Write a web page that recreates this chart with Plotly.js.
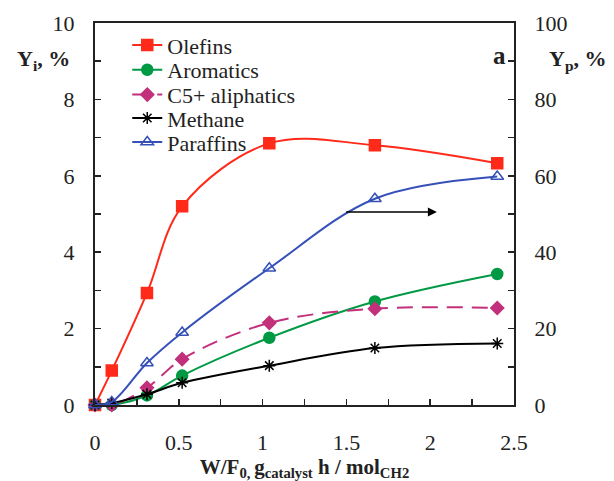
<!DOCTYPE html>
<html>
<head>
<meta charset="utf-8">
<script src="https://cdn.plot.ly/plotly-3.0.1.min.js"></script>
<style>html,body{margin:0;padding:0;background:#fff;}
#chart{width:614px;height:481px;position:relative;z-index:1;}
#fontwarm{position:absolute;left:0;top:0;z-index:0;font-family:'Liberation Serif';font-size:22px;color:#fff;visibility:hidden;}</style>
</head>
<body>
<div id="fontwarm">Olefins 0.5 10 <b>a</b></div>
<div id="chart"></div>
<script>
const xVals = [0, 0.1, 0.31, 0.52, 1.04, 1.67, 2.4];
const olefins = [0, 0.9, 2.93, 5.2, 6.85, 6.8, 6.33];
const aromatics = [0, 0, 0.25, 0.77, 1.76, 2.71, 3.43];
const c5aliph = [0, 0, 0.45, 1.2, 2.15, 2.52, 2.54];
const methane = [0, 0.05, 0.28, 0.58, 1.03, 1.49, 1.61];
const paraffins = [0, 0.8, 11, 19, 35.8, 54, 59.8];
const seriesNames = ['Olefins', 'Aromatics', 'C5+ aliphatics', 'Methane', 'Paraffins'];
const arrowY = 5.05, arrowX0 = 1.49, arrowX1 = 2.04;

const FONT = 'Liberation Serif';
const TXT = '#222';

function tr(i, y, color, symbol, dash, size, axis) {
  return {
    x: xVals, y: y, name: seriesNames[i], type: 'scatter', mode: 'lines+markers',
    yaxis: axis || 'y', legend: i === 0 ? 'legend' : 'legend' + (i + 1),
    line: {color: color, width: 2, shape: 'spline', smoothing: 1, dash: dash || 'solid'},
    marker: {symbol: symbol, color: color, size: size, line: {color: color, width: 1.5}},
    cliponaxis: false
  };
}

const data = [
  tr(0, olefins, '#ff2a1a', 'square', 'solid', 11),
  tr(1, aromatics, '#009944', 'circle', 'solid', 11),
  tr(2, c5aliph, '#c2307c', 'diamond', '16px,9px', 10),
  tr(3, methane, '#000000', 'asterisk-open', 'solid', 10),
  tr(4, paraffins, '#3550b8', 'triangle-up-open', 'solid', 11, 'y2')
];

function leg(yc) {
  return {x: 0.077, y: yc, xanchor: 'left', yanchor: 'middle', bgcolor: 'rgba(0,0,0,0)',
          font: {family: FONT, size: 22, color: TXT}, itemwidth: 30};
}
const tickFont = {family: FONT, size: 22, color: TXT};

const layout = {
  width: 614, height: 481,
  margin: {l: 95, r: 100, t: 23, b: 76},
  paper_bgcolor: '#fff', plot_bgcolor: '#fff',
  font: {family: FONT, size: 22, color: TXT},
  showlegend: true,
  legend: leg(0.942), legend2: leg(0.877), legend3: leg(0.812), legend4: leg(0.751), legend5: leg(0.688),
  xaxis: {range: [0, 2.5], dtick: 0.5, tick0: 0, ticks: 'inside', ticklen: 6, tickwidth: 1.5, tickcolor: TXT,
          showline: true, linecolor: TXT, linewidth: 2, mirror: true, showgrid: false, zeroline: false,
          minor: {dtick: 0.25, ticks: 'inside', ticklen: 6, tickwidth: 1.5, tickcolor: TXT, showgrid: false},
          ticklabelstandoff: 17, tickfont: tickFont,
          title: {text: '<b>W/F<sub>0, </sub>g<sub>catalyst</sub> h / mol<sub>CH2</sub></b>', font: {family: FONT, size: 21, color: TXT}, standoff: 5}},
  yaxis: {range: [0, 10], dtick: 2, ticks: 'inside', ticklen: 6, tickwidth: 1.5, tickcolor: TXT,
          showline: true, linecolor: TXT, linewidth: 2, showgrid: false, zeroline: false,
          minor: {dtick: 1, ticks: 'inside', ticklen: 6, tickwidth: 1.5, tickcolor: TXT, showgrid: false},
          ticklabelstandoff: 14, tickfont: tickFont},
  yaxis2: {range: [0, 100], dtick: 20, overlaying: 'y', side: 'right', ticks: 'inside', ticklen: 6, tickwidth: 1.5, tickcolor: TXT,
           showline: true, linecolor: TXT, linewidth: 2, showgrid: false, zeroline: false,
           minor: {dtick: 10, ticks: 'inside', ticklen: 6, tickwidth: 1.5, tickcolor: TXT, showgrid: false},
           ticklabelstandoff: 14, tickfont: tickFont},
  annotations: [
    {xref: 'paper', yref: 'paper', x: -0.124, y: 0.903, text: '<b>Y<sub>i</sub>, %</b>', showarrow: false,
     xanchor: 'center', yanchor: 'middle', font: {family: FONT, size: 22, color: TXT}},
    {xref: 'paper', yref: 'paper', x: 1.079, y: 0.903, text: '<b>Y<sub>p</sub>, %</b>', showarrow: false,
     xanchor: 'left', yanchor: 'middle', font: {family: FONT, size: 22, color: TXT}},
    {xref: 'paper', yref: 'paper', x: 0.965, y: 0.916, text: '<b>a</b>', showarrow: false,
     xanchor: 'center', yanchor: 'middle', font: {family: FONT, size: 25, color: TXT}},
    {xref: 'x', yref: 'y', axref: 'x', ayref: 'y', x: arrowX1, y: arrowY, ax: arrowX0, ay: arrowY,
     text: '', showarrow: true, arrowhead: 2, arrowsize: 1.2, arrowwidth: 1.5, arrowcolor: '#000'}
  ]
};

Plotly.newPlot('chart', data, layout, {displayModeBar: false, staticPlot: true});
</script>
</body>
</html>
